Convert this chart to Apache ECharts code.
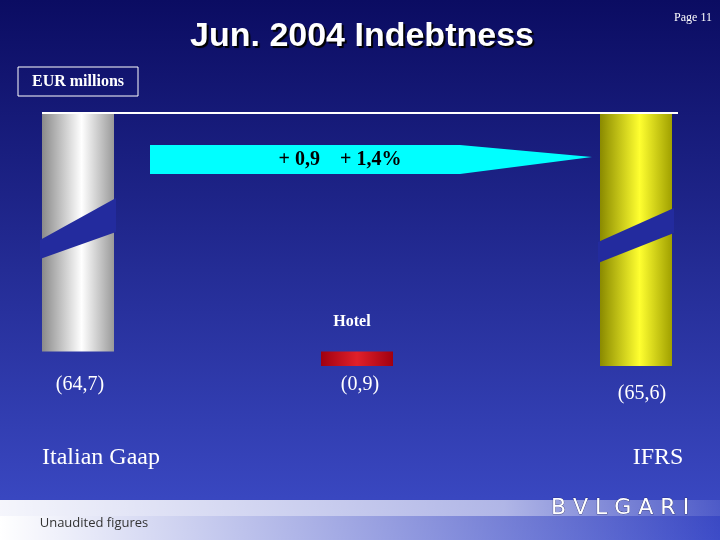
<!DOCTYPE html>
<html><head><meta charset="utf-8">
<script src="https://cdn.jsdelivr.net/npm/echarts@6/dist/echarts.min.js"></script>
<style>html,body{margin:0;padding:0}#c{width:720px;height:540px}</style>
</head><body><div id="c"></div>
<script>
const categories = ['Italian Gaap', 'Hotel', 'IFRS'];
const baseValues = [0, 64.7, 0];
const deltaValues = [64.7, 0.9, 65.6];
const valueLabels = ['(64,7)', '(0,9)', '(65,6)'];
const variationText = '+ 0,9    + 1,4%';

const chart = echarts.init(document.getElementById('c'));
const serif = '"Liberation Serif", "DejaVu Serif", serif';
const barStyles = [
  new echarts.graphic.LinearGradient(0,0,1,0,[{offset:0,color:'#8a8a8a'},{offset:0.55,color:'#ffffff'},{offset:1,color:'#9a9a9a'}]),
  new echarts.graphic.LinearGradient(0,0,1,0,[{offset:0,color:'#a00010'},{offset:0.5,color:'#e0202a'},{offset:1,color:'#a00010'}]),
  new echarts.graphic.LinearGradient(0,0,1,0,[{offset:0,color:'#8a8a00'},{offset:0.55,color:'#ffff30'},{offset:1,color:'#a0a000'}])
];
chart.setOption({
  backgroundColor: new echarts.graphic.LinearGradient(0,0,0,1,[{offset:0,color:'#0b0c62'},{offset:1,color:'#3d4cc8'}]),
  animation:false,
  grid:{left:78,right:84,top:113,bottom:174},
  xAxis:{type:'category',data:categories,boundaryGap:false,axisLine:{show:false},axisTick:{show:false},axisLabel:{show:false}},
  yAxis:{type:'value',inverse:true,min:50,max:65.6,show:false,splitLine:{show:false}},
  series:[
    {type:'bar',stack:'w',barWidth:72,data:baseValues,itemStyle:{color:'transparent'},silent:true},
    {type:'bar',stack:'w',barWidth:72,data:deltaValues.map((v,i)=>({value:v,itemStyle:{color:barStyles[i]}}))}
  ],
  graphic:[
    {type:'line',z:100,shape:{x1:42,y1:113,x2:678,y2:113},style:{stroke:'#ffffff',lineWidth:2}},
    {type:'polygon',z:100,shape:{points:[[40,240],[116,198],[116,232],[40,259]]},style:{fill:'#232b9e'}},
    {type:'polygon',z:100,shape:{points:[[598,242],[674,208],[674,233],[598,263]]},style:{fill:'#232b9e'}},
    {type:'polygon',z:100,shape:{points:[[150,145],[460,145],[592,157],[460,174],[150,174]]},style:{fill:'#00ffff'}},
    {type:'text',z:100,x:340,y:160,style:{text:variationText,font:'bold 20px '+serif,fill:'#000',align:'center',verticalAlign:'middle'}},
    {type:'text',z:100,x:362,y:37,style:{text:'Jun. 2004 Indebtness',font:'bold 34px "Liberation Sans Narrow", "Liberation Sans", Arial, sans-serif',fill:'#ffffff',align:'center',verticalAlign:'middle',textShadowColor:'#000',textShadowBlur:1,textShadowOffsetX:2,textShadowOffsetY:2}},
    {type:'text',z:100,x:712,y:18,style:{text:'Page 11',font:'12px '+serif,fill:'#ffffff',align:'right',verticalAlign:'middle'}},
    {type:'rect',z:100,shape:{x:18,y:67,width:120,height:29},style:{fill:'none',stroke:'#ffffff',lineWidth:1}},
    {type:'text',z:100,x:78,y:82,style:{text:'EUR millions',font:'bold 16px '+serif,fill:'#ffffff',align:'center',verticalAlign:'middle'}},
    {type:'text',z:100,x:352,y:322,style:{text:'Hotel',font:'bold 16px '+serif,fill:'#ffffff',align:'center',verticalAlign:'middle'}},
    {type:'text',z:100,x:80,y:385,style:{text:valueLabels[0],font:'20px '+serif,fill:'#ffffff',align:'center',verticalAlign:'middle'}},
    {type:'text',z:100,x:360,y:385,style:{text:valueLabels[1],font:'20px '+serif,fill:'#ffffff',align:'center',verticalAlign:'middle'}},
    {type:'text',z:100,x:642,y:394,style:{text:valueLabels[2],font:'20px '+serif,fill:'#ffffff',align:'center',verticalAlign:'middle'}},
    {type:'text',z:100,x:101,y:458,style:{text:categories[0],font:'24px '+serif,fill:'#ffffff',align:'center',verticalAlign:'middle'}},
    {type:'text',z:100,x:658,y:458,style:{text:categories[2],font:'24px '+serif,fill:'#ffffff',align:'center',verticalAlign:'middle'}},
    {type:'rect',z:90,shape:{x:0,y:500,width:720,height:16},style:{fill:new echarts.graphic.LinearGradient(0,0,1,0,[{offset:0,color:'rgba(255,255,255,0.95)'},{offset:0.7,color:'rgba(255,255,255,0.6)'},{offset:1,color:'rgba(255,255,255,0.1)'}])}},
    {type:'rect',z:90,shape:{x:0,y:516,width:720,height:24},style:{fill:new echarts.graphic.LinearGradient(0,0,1,0,[{offset:0,color:'#ffffff'},{offset:0.5,color:'rgba(255,255,255,0.5)'},{offset:1,color:'rgba(255,255,255,0)'}])}},
    {type:'text',z:100,x:620,y:508,style:{text:'B V L G A R I',font:'22px "DejaVu Sans", sans-serif',fill:'#ffffff',align:'center',verticalAlign:'middle',stroke:'#222255',lineWidth:0.6}},
    {type:'text',z:100,x:94,y:523,style:{text:'Unaudited figures',font:'13px "Open Sans", sans-serif',fill:'#333333',align:'center',verticalAlign:'middle'}}
  ]
});
</script></body></html>
